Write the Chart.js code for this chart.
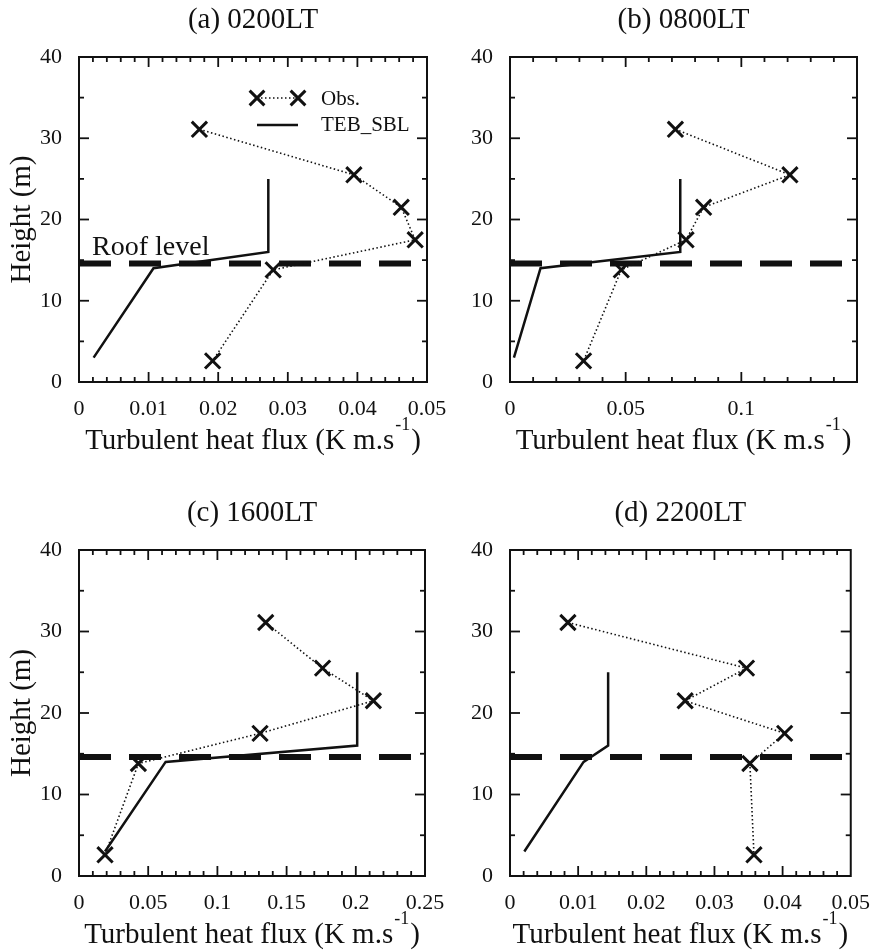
<!DOCTYPE html>
<html>
<head>
<meta charset="utf-8">
<script src="https://cdn.jsdelivr.net/npm/chart.js@4.4.1/dist/chart.umd.min.js"></script>
<style>
  body { margin: 0; background: #fff; }
  #wrap { position: relative; width: 876px; height: 950px; }
  #wrap canvas { position: absolute; left: 0; top: 0; }
</style>
</head>
<body>
<div id="wrap">
  <canvas id="pa" width="876" height="950"></canvas>
  <canvas id="pb" width="876" height="950"></canvas>
  <canvas id="pc" width="876" height="950"></canvas>
  <canvas id="pd" width="876" height="950"></canvas>
</div>
<script>
// ---- data ----
const panelTitles = ['(a) 0200LT', '(b) 0800LT', '(c) 1600LT', '(d) 2200LT'];

const obsHeight = [31.1, 25.5, 21.5, 17.5, 13.8, 2.6];
const obsFluxA = [0.0173, 0.0395, 0.0463, 0.0483, 0.0279, 0.0192];
const obsFluxB = [0.0715, 0.121, 0.0837, 0.0761, 0.0481, 0.0318];
const obsFluxC = [0.1349, 0.176, 0.2127, 0.1308, 0.0429, 0.0188];
const obsFluxD = [0.0085, 0.0347, 0.0257, 0.0403, 0.0352, 0.0358];

const tebHeight = [3, 14, 16, 25];
const tebFluxA = [0.0021, 0.0107, 0.0272, 0.0272];
const tebFluxB = [0.0017, 0.0132, 0.0736, 0.0736];
const tebFluxC = [0.0188, 0.0626, 0.201, 0.201];
const tebFluxD = [0.0021, 0.0108, 0.0144, 0.0144];

const roofLevel = 14.6;

const xMax = [0.05, 0.15, 0.25, 0.05];
const xStep = [0.01, 0.05, 0.05, 0.01];
const xMinorStep = [0.002, 0.01, 0.01, 0.002];
const xTickLabelsA = ['0', '0.01', '0.02', '0.03', '0.04', '0.05'];
const xTickLabelsB = ['0', '0.05', '0.1', ''];
const xTickLabelsC = ['0', '0.05', '0.1', '0.15', '0.2', '0.25'];
const xTickLabelsD = ['0', '0.01', '0.02', '0.03', '0.04', '0.05'];
const yTickLabels = ['0', '10', '20', '30', '40'];

const yTitle = 'Height (m)';
const xTitleMain = 'Turbulent heat flux (K m.s';
const xTitleSup = '-1';
const xTitleEnd = ')';

// ---- styling ----
const ink = '#111';
const serif = "'Liberation Serif', 'Times New Roman', serif";

const panels = [
  { id: 'pa', obs: obsFluxA, teb: tebFluxA, labels: xTickLabelsA, col: 0, box: { left: 79, top: 57, right: 427, bottom: 382 }, yTitle: true, legend: true, roofText: true },
  { id: 'pb', obs: obsFluxB, teb: tebFluxB, labels: xTickLabelsB, col: 438, box: { left: 510, top: 57, right: 857, bottom: 382 } },
  { id: 'pc', obs: obsFluxC, teb: tebFluxC, labels: xTickLabelsC, col: 0, box: { left: 79, top: 550, right: 425, bottom: 876 }, yTitle: true },
  { id: 'pd', obs: obsFluxD, teb: tebFluxD, labels: xTickLabelsD, col: 438, box: { left: 510, top: 550, right: 857, bottom: 876 } }
];

const TITLE_H = 51;
const XAXIS_H = 74;

function line(ctx, x1, y1, x2, y2) {
  ctx.beginPath();
  ctx.moveTo(x1, y1);
  ctx.lineTo(x2, y2);
  ctx.stroke();
}

function drawCross(ctx, x, y, r) {
  line(ctx, x - r, y - r, x + r, y + r);
  line(ctx, x - r, y + r, x + r, y - r);
}

// frame, inward ticks on all sides, legend, roof text, x title
const decor = {
  id: 'decor',
  afterDraw(chart, args, opts) {
    const { ctx, chartArea: a, scales: { x, y } } = chart;
    ctx.save();
    ctx.strokeStyle = ink;
    ctx.fillStyle = ink;

    ctx.lineWidth = 2;
    ctx.strokeRect(a.left, a.top, a.right - a.left, a.bottom - a.top);

    ctx.lineWidth = 1.8;
    const nx = Math.round((x.max - x.min) / opts.xMinor);
    const per = Math.round(opts.xStep / opts.xMinor);
    for (let i = 1; i < nx; i++) {
      const px = x.getPixelForValue(x.min + i * opts.xMinor);
      const len = i % per === 0 ? 10 : 5;
      line(ctx, px, a.bottom, px, a.bottom - len);
      line(ctx, px, a.top, px, a.top + len);
    }
    for (let i = 1; i < 8; i++) {
      const py = y.getPixelForValue(i * 5);
      const len = i % 2 === 0 ? 10 : 5;
      line(ctx, a.left, py, a.left + len, py);
      line(ctx, a.right, py, a.right - len, py);
    }

    // x axis title with superscript
    ctx.textBaseline = 'alphabetic';
    ctx.textAlign = 'left';
    ctx.font = '29px ' + serif;
    const w1 = ctx.measureText(xTitleMain).width;
    const w3 = ctx.measureText(xTitleEnd).width;
    ctx.font = '18px ' + serif;
    const w2 = ctx.measureText(xTitleSup).width;
    const base = a.bottom + 67;
    let tx = (a.left + a.right) / 2 - (w1 + w2 + w3 + 2) / 2;
    ctx.font = '29px ' + serif;
    ctx.fillText(xTitleMain, tx, base);
    ctx.font = '18px ' + serif;
    ctx.fillText(xTitleSup, tx + w1 + 1, base - 19);
    ctx.font = '29px ' + serif;
    ctx.fillText(xTitleEnd, tx + w1 + w2 + 2, base);

    const ds = chart.data.datasets;
    if (opts.roofText) {
      ctx.font = '28px ' + serif;
      ctx.fillText(ds[2].label, a.left + 13, y.getPixelForValue(roofLevel) - 8);
    }

    if (opts.legend) {
      const lx1 = a.left + 178, lx2 = a.left + 219, tx2 = a.left + 242;
      const ly1 = a.top + 41, ly2 = a.top + 68;
      ctx.lineWidth = 1.6;
      ctx.setLineDash([1.5, 2.5]);
      line(ctx, lx1, ly1, lx2, ly1);
      ctx.setLineDash([]);
      ctx.lineWidth = 3;
      drawCross(ctx, lx1, ly1, 7.4);
      drawCross(ctx, lx2, ly1, 7.4);
      ctx.lineWidth = 2.5;
      line(ctx, lx1, ly2, lx2, ly2);
      ctx.font = '21px ' + serif;
      ctx.textBaseline = 'middle';
      ctx.fillText(ds[0].label, tx2, ly1 + 1);
      ctx.fillText(ds[1].label, tx2, ly2);
    }
    ctx.restore();
  }
};

panels.forEach((p, k) => {
  const b = p.box;
  const yWidth = b.left - p.col;
  const obsData = obsHeight.map((h, i) => ({ x: p.obs[i], y: h }));
  const tebData = tebHeight.map((h, i) => ({ x: p.teb[i], y: h }));
  const roofData = [{ x: 0, y: roofLevel }, { x: xMax[k], y: roofLevel }];

  new Chart(document.getElementById(p.id), {
    type: 'scatter',
    data: {
      datasets: [
        {
          label: 'Obs.',
          data: obsData,
          showLine: true,
          borderColor: ink,
          borderWidth: 1.6,
          borderDash: [1.5, 2.5],
          pointStyle: 'crossRot',
          pointRadius: 10.8,
          pointBorderWidth: 3,
          pointBorderColor: ink,
          pointBackgroundColor: ink,
          clip: false
        },
        {
          label: 'TEB_SBL',
          data: tebData,
          showLine: true,
          borderColor: ink,
          borderWidth: 2.5,
          pointRadius: 0,
          clip: false
        },
        {
          label: 'Roof level',
          data: roofData,
          showLine: true,
          borderColor: ink,
          borderWidth: 6,
          borderDash: [32, 18],
          borderCapStyle: 'butt',
          pointRadius: 0
        }
      ]
    },
    options: {
      responsive: false,
      animation: false,
      events: [],
      layout: {
        padding: {
          left: p.col,
          right: 876 - b.right,
          top: b.top - TITLE_H,
          bottom: 950 - b.bottom - XAXIS_H
        }
      },
      scales: {
        x: {
          type: 'linear',
          min: 0,
          max: xMax[k],
          grid: { display: false },
          border: { display: false },
          ticks: {
            stepSize: xStep[k],
            color: ink,
            padding: 6,
            maxRotation: 0,
            autoSkip: false,
            font: { family: serif, size: 22 },
            callback: (v, i) => p.labels[i]
          },
          afterFit: (s) => { s.height = XAXIS_H; }
        },
        y: {
          min: 0,
          max: 40,
          grid: { display: false },
          border: { display: false },
          ticks: {
            stepSize: 10,
            color: ink,
            padding: 9,
            font: { family: serif, size: 22 },
            callback: (v, i) => yTickLabels[i]
          },
          title: {
            display: !!p.yTitle,
            text: yTitle,
            color: ink,
            font: { family: serif, size: 29, lineHeight: 1 },
            padding: { top: 8, bottom: 0 }
          },
          afterFit: (s) => { s.width = yWidth; }
        }
      },
      plugins: {
        legend: { display: false },
        tooltip: { enabled: false },
        title: {
          display: true,
          text: panelTitles[k],
          color: ink,
          fullSize: false,
          font: { family: serif, size: 29, weight: 'normal', lineHeight: 1 },
          padding: { top: 0, bottom: TITLE_H - 29 }
        },
        decor: {
          xStep: xStep[k],
          xMinor: xMinorStep[k],
          legend: !!p.legend,
          roofText: !!p.roofText
        }
      }
    },
    plugins: [decor]
  });
});
</script>
</body>
</html>
